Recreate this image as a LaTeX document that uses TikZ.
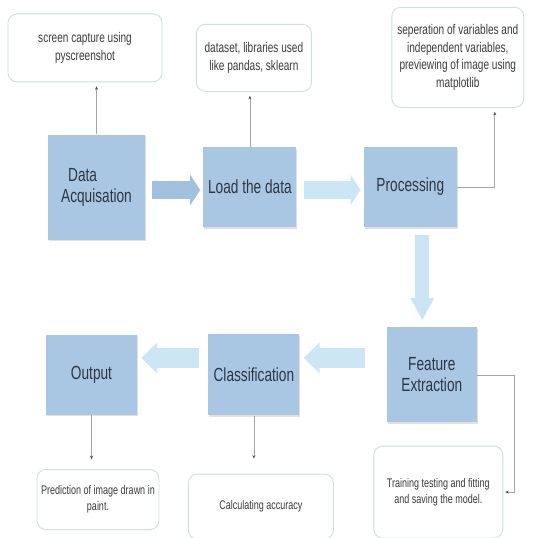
\documentclass[tikz,border=0pt]{standalone}
\usepackage{fontspec}
\setmainfont{Liberation Sans}[FakeStretch=0.72]
\usetikzlibrary{arrows.meta, positioning, shadows, calc}
\definecolor{stageblue}{RGB}{169,199,227}
\definecolor{flowdark}{RGB}{160,194,224}
\definecolor{flowlight}{RGB}{204,230,245}
\definecolor{noteedge}{RGB}{208,222,222}
\definecolor{linkgray}{RGB}{165,165,165}
\definecolor{stagetext}{RGB}{45,55,68}
\definecolor{notetext}{RGB}{60,60,60}
\tikzset{
    base/.style = {inner sep=0pt, align=center},
    % Components
    stage/.style = {base, rectangle, fill=stageblue, text=stagetext,
        drop shadow={shadow xshift=1pt, shadow yshift=-1.5pt, fill=black, opacity=0.12},
        font=\fontsize{19}{21}\selectfont},
    note/.style  = {base, rectangle, rounded corners=9pt, draw=noteedge, line width=0.9pt,
        fill=white, text=notetext, font=\fontsize{14}{17.5}\selectfont},
    smallnote/.style = {note, font=\fontsize{12.5}{16}\selectfont},
    % Edges
    bigflow/.style  = {line width=18pt, -{Triangle[length=10pt, width=30pt]}},
    lowflow/.style  = {line width=20pt, -{Triangle[length=16pt, width=30pt]}},
    downflow/.style = {line width=14pt, -{Triangle[length=22pt, width=22pt]}},
    link/.style = {draw=linkgray, line width=0.7pt, -{Stealth[length=3.5pt, width=3pt, color=black!70]}}
}

\begin{document}
\begin{tikzpicture}
    \useasboundingbox (0pt,0pt) rectangle (534pt,-538pt);

    \node (acq) [stage, minimum width=97pt, minimum height=105pt, align=left] at (96.5pt,-187pt) {\hspace*{7pt}Data\\Acquisation};
    \node (load) [stage, minimum width=93pt, minimum height=80pt, right=58pt of acq] {Load the data};
    \node (proc) [stage, minimum width=93pt, minimum height=80pt, right=67pt of load] {Processing};

    \node (feat) [stage, minimum width=90pt, minimum height=95pt, below=100pt of proc, xshift=21.5pt] {Feature\\Extraction};
    \node (cls) [stage, minimum width=91pt, minimum height=81pt, left=87pt of feat] {Classification};
    \node (out) [stage, minimum width=91pt, minimum height=80pt, left=71pt of cls] {Output};

    \node (capture) [note, minimum width=154pt, minimum height=68pt, above=52pt of acq, xshift=-11.5pt] {screen capture using\\pyscreenshot};
    \node (libs) [note, minimum width=115pt, minimum height=67pt, above=55pt of load, xshift=4pt] {dataset, libraries used\\like pandas, sklearn};
    \node (split) [note, minimum width=132pt, minimum height=100pt, above=39pt of proc, xshift=47.5pt] {seperation of variables and\\independent variables,\\previewing of image using\\matplotlib};

    \node (predict) [smallnote, minimum width=122pt, minimum height=60pt, below=54pt of out, xshift=6.5pt] {Prediction of image drawn in\\paint.};
    \node (accuracy) [smallnote, minimum width=145pt, minimum height=65pt, below=58pt of cls, xshift=7pt] {Calculating accuracy};
    \node (train) [smallnote, minimum width=129pt, minimum height=92pt, below=23pt of feat, xshift=6.5pt] {Training testing and fitting\\and saving the model.};

    % Main flow
    \draw [bigflow, flowdark, shorten <=7pt, shorten >=3pt] ([yshift=-3pt]acq.east) -- ([yshift=-3pt]load.west);
    \draw [bigflow, flowlight, shorten <=7pt, shorten >=3pt] ([yshift=-3pt]load.east) -- ([yshift=-3pt]proc.west);
    \draw [downflow, flowlight!95!stageblue, shorten <=8pt, shorten >=7pt] ([xshift=12pt]proc.south) -- ([xshift=12pt]proc.south |- feat.north);
    \draw [lowflow, flowlight, shorten <=22pt, shorten >=4pt] ([yshift=17pt]feat.west) -- ([yshift=17pt]cls.east);
    \draw [lowflow, flowlight, shorten <=9pt, shorten >=4pt] ([yshift=17pt]cls.west) -- ([yshift=17pt]out.east);

    % Annotations
    \draw [link, shorten >=4pt] (acq.north) -- (acq.north |- capture.south);
    \draw [link, shorten >=4pt] (load.north) -- (load.north |- libs.south);
    \draw [link, shorten >=4pt] (proc.east) -| ([xshift=37pt]split.south);
    \draw [link, shorten >=10pt] (out.south) -- (out.south |- predict.north);
    \draw [link, shorten >=15pt] (cls.south) -- (cls.south |- accuracy.north);
    \draw [link, shorten >=2pt] (feat.east) -- ++(37pt,0pt) |- (train.east);
\end{tikzpicture}
\end{document}
